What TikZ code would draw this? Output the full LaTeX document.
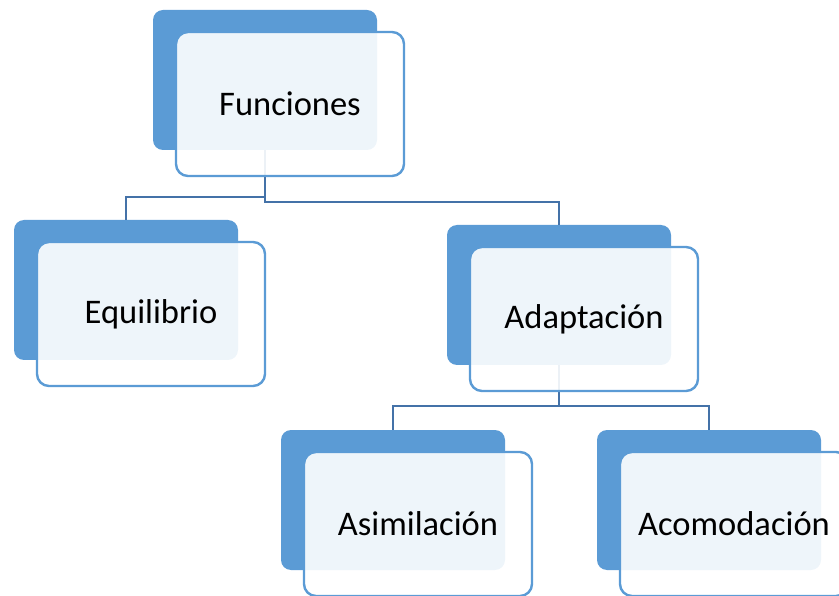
\documentclass[tikz,border=0pt]{standalone}
\usepackage{fontspec}
\setmainfont{Carlito}
\definecolor{darkfill}{HTML}{5B9BD5}
\definecolor{edge}{HTML}{5B9BD5}
\definecolor{conn}{HTML}{4472A8}
\tikzset{
  darkbox/.style={draw=none, fill=darkfill, rounded corners=10pt, anchor=north west,
    minimum width=224pt, minimum height=140pt, inner sep=0pt, outer sep=0pt},
  lightbox/.style={draw=edge, line width=2.4pt, fill=white, fill opacity=0.9, text opacity=1,
    rounded corners=12pt, anchor=north west, minimum width=228pt, minimum height=144pt,
    inner sep=0pt, outer sep=0pt, font=\fontsize{34.5}{40}\selectfont},
  conn/.style={draw=conn, line width=2.4pt}
}
\begin{document}
\begin{tikzpicture}[x=1pt,y=-1pt]
\useasboundingbox (0,0) rectangle (839,596);
\clip (0,0) rectangle (839,596);
% dark boxes
\node[darkbox] (fD) at (153,10) {};
\node[darkbox] (eD) at (14,220) {};
\node[darkbox] (aD) at (447,225) {};
\node[darkbox] (sD) at (281,430) {};
\node[darkbox] (cD) at (597,430) {};
% connectors
\draw[conn] (fD.south) -- ++(0,47) -| (eD.north);
\draw[conn] (fD.south) -- ++(0,52) -| (aD.north);
\draw[conn] (aD.south) -- ++(0,41) -| (sD.north);
\draw[conn] (aD.south) -- ++(0,41) -| (cD.north);
% light boxes
\node[lightbox] (fL) at (176,32) {Funciones};
\node[lightbox] (eL) at (37,242) {Equilibrio};
\node[lightbox] (aL) at (470,247) {Adaptación};
\node[lightbox] (sL) at (304,452) {Asimilación};
\node[lightbox] (cL) at (620,452) {Acomodación};
\end{tikzpicture}
\end{document}
